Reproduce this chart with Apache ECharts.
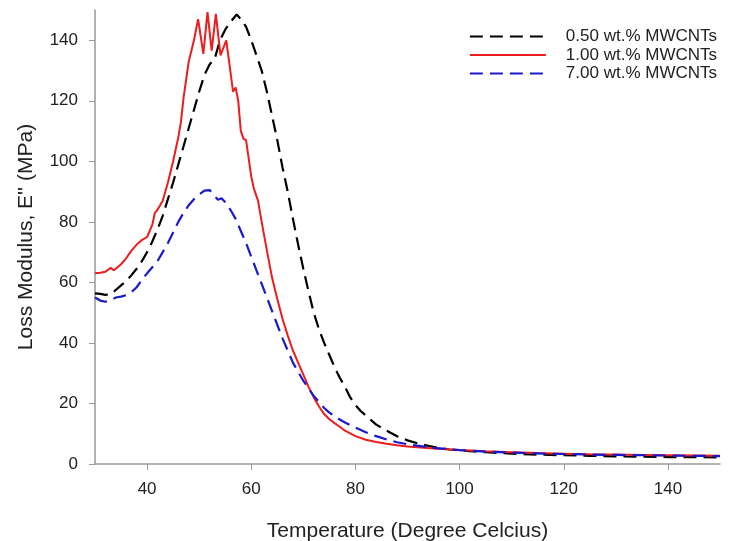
<!DOCTYPE html>
<html>
<head>
<meta charset="utf-8">
<script src="https://cdn.jsdelivr.net/npm/echarts@6/dist/echarts.min.js"></script>
<style>
html, body { margin: 0; padding: 0; background: #fff; }
#chart { width: 729px; height: 541px; }
</style>
</head>
<body>
<div id="chart"></div>
<script>
// 0.50 wt.% MWCNTs
var tempBlack = [30, 31, 32, 33, 34, 35, 36, 37, 38, 39, 40, 41, 42, 43, 44, 45, 46, 47, 48, 49, 50, 51, 52, 53, 54, 55, 56, 57.2, 58, 59, 60, 61, 62, 63, 64, 65, 66, 67, 68, 69, 70, 71, 72, 73, 74, 75, 76, 77, 78, 79, 80, 81, 82, 83, 84, 86, 88, 90, 92, 94, 96, 98, 100, 105, 110, 115, 120, 125, 130, 135, 140, 145, 150];
var lossBlack = [56.4, 56.2, 55.9, 56.1, 57.5, 59, 60.5, 62.4, 64.5, 67, 70, 73.5, 77.5, 82, 87.5, 93, 99, 105, 111, 117, 123, 128.5, 132, 134, 140, 143.5, 146, 148.5, 147, 144.5, 140, 135, 130, 123, 115, 107, 98, 90, 81, 72.5, 64.5, 57, 50, 44.5, 40, 36, 32, 28.5, 25.5, 22, 19.5, 17.5, 16, 14.5, 13, 11, 9.2, 7.8, 6.8, 6, 5.3, 4.8, 4.5, 3.9, 3.4, 3.1, 2.9, 2.7, 2.5, 2.4, 2.3, 2.3, 2.2];

// 1.00 wt.% MWCNTs
var tempRed = [30, 31, 32, 33, 33.6, 34, 35, 36, 37, 38, 39, 40, 41, 41.5, 42, 43, 44, 45, 46, 46.5, 47, 48, 49, 49.8, 50.8, 51.6, 52.4, 53.2, 54.1, 55.2, 55.9, 56.5, 57, 57.5, 58, 58.5, 59, 60, 60.5, 61.3, 62, 63, 64, 65, 66, 67, 68, 69, 70, 71, 72, 73, 74, 75, 76, 77, 78, 80, 82, 84, 86, 88, 90, 95, 100, 105, 110, 115, 120, 125, 130, 135, 140, 145, 150];
var lossRed = [63, 63.2, 63.5, 64.8, 64, 64.5, 66, 68, 70.5, 72.5, 74, 75, 79, 83, 84, 87, 93, 100, 108, 113, 121, 133, 140, 147, 135.5, 149.3, 136.6, 148.7, 135, 140, 131, 123, 124.4, 120, 110, 107.5, 107, 95, 91, 87, 80, 70.6, 61.5, 54.5, 48, 42.5, 37.5, 33.5, 29.5, 25.5, 22, 19, 16.5, 14.8, 13.5, 12.3, 11, 9.2, 8, 7.3, 6.7, 6.2, 5.8, 5.1, 4.6, 4.2, 3.9, 3.6, 3.4, 3.2, 3.1, 3, 2.9, 2.8, 2.7];

// 7.00 wt.% MWCNTs
var tempBlue = [30, 31, 32, 33, 34, 35, 36, 37, 38, 39, 40, 41, 42, 43, 44, 45, 46, 47, 48, 49, 50, 51, 52, 53, 53.6, 54.3, 55, 56, 57, 58, 59, 60, 61, 62, 63, 64, 65, 66, 67, 68, 69, 70, 71, 72, 73, 74, 75, 76, 77, 78, 80, 82, 84, 86, 88, 90, 95, 100, 105, 110, 115, 120, 125, 130, 135, 140, 145, 150];
var lossBlue = [55, 54, 53.6, 54.2, 55, 55.3, 55.8, 56.8, 58.4, 60.8, 63, 65, 67, 70, 73, 76.5, 80, 83, 85.5, 87.5, 89, 90.3, 90.5, 88.5, 87.3, 87.8, 86.5, 84, 81, 77, 73, 68.5, 64, 59.5, 55, 50.5, 46, 41.5, 37.5, 33.5, 30.5, 27.5, 25, 22.5, 20.5, 18.5, 17, 15.8, 14.7, 13.7, 12, 10.5, 9.2, 8.1, 7.2, 6.5, 5.3, 4.6, 4.1, 3.8, 3.5, 3.3, 3.1, 3, 2.9, 2.8, 2.7, 2.6];

var xTicks = [40, 60, 80, 100, 120, 140];
var yTicks = [0, 20, 40, 60, 80, 100, 120, 140];

function pairs(xs, ys) {
  return xs.map(function (x, i) { return [x, ys[i]]; });
}

var font = 'Liberation Sans';
var textColor = '#222';
var axisColor = '#999';

var myChart = echarts.init(document.getElementById('chart'));
var option = {
  animation: false,
  textStyle: { fontFamily: font },
  grid: { left: 95, right: 9, top: 10, bottom: 77, outerBoundsMode: 'none' },
  legend: {
    orient: 'vertical',
    right: 7,
    top: 23,
    itemWidth: 76,
    itemHeight: 14,
    itemGap: 1.5,
    itemStyle: { opacity: 0 },
    textStyle: { fontFamily: font, fontSize: 17, lineHeight: 17, color: textColor, padding: [0, 0, 0, 15] },
    data: ['0.50 wt.% MWCNTs', '1.00 wt.% MWCNTs', '7.00 wt.% MWCNTs']
  },
  xAxis: {
    type: 'value',
    min: 30,
    max: 150,
    name: 'Temperature (Degree Celcius)',
    nameLocation: 'middle',
    nameGap: 57,
    nameTextStyle: { fontFamily: font, fontSize: 21, color: textColor },
    axisLine: { show: true, lineStyle: { color: axisColor, width: 1.5 } },
    axisTick: { show: true, length: 6, customValues: xTicks, lineStyle: { color: axisColor } },
    axisLabel: { customValues: xTicks, fontFamily: font, fontSize: 17, color: textColor, margin: 17 },
    splitLine: { show: false }
  },
  yAxis: {
    type: 'value',
    min: 0,
    max: 150,
    name: "Loss Modulus, E'' (MPa)",
    nameLocation: 'middle',
    nameGap: 58,
    nameTextStyle: { fontFamily: font, fontSize: 21, color: textColor },
    axisLine: { show: true, lineStyle: { color: axisColor, width: 1.5 } },
    axisTick: { show: true, length: 6, customValues: yTicks, lineStyle: { color: axisColor } },
    axisLabel: { customValues: yTicks, fontFamily: font, fontSize: 17, color: textColor, margin: 17 },
    splitLine: { show: false }
  },
  series: [{
    name: '0.50 wt.% MWCNTs',
    type: 'line',
    symbol: 'none',
    data: pairs(tempBlack, lossBlack),
    lineStyle: { color: '#000', width: 2.2, type: [13, 7] },
    itemStyle: { color: '#000' }
  }, {
    name: '1.00 wt.% MWCNTs',
    type: 'line',
    symbol: 'none',
    data: pairs(tempRed, lossRed),
    lineStyle: { color: '#ee1c1c', width: 2 },
    itemStyle: { color: '#ee1c1c' }
  }, {
    name: '7.00 wt.% MWCNTs',
    type: 'line',
    symbol: 'none',
    data: pairs(tempBlue, lossBlue),
    lineStyle: { color: '#1a1acc', width: 2.2, type: [13, 7] },
    itemStyle: { color: '#1a1acc' }
  }]
};
myChart.setOption(option);
</script>
</body>
</html>
